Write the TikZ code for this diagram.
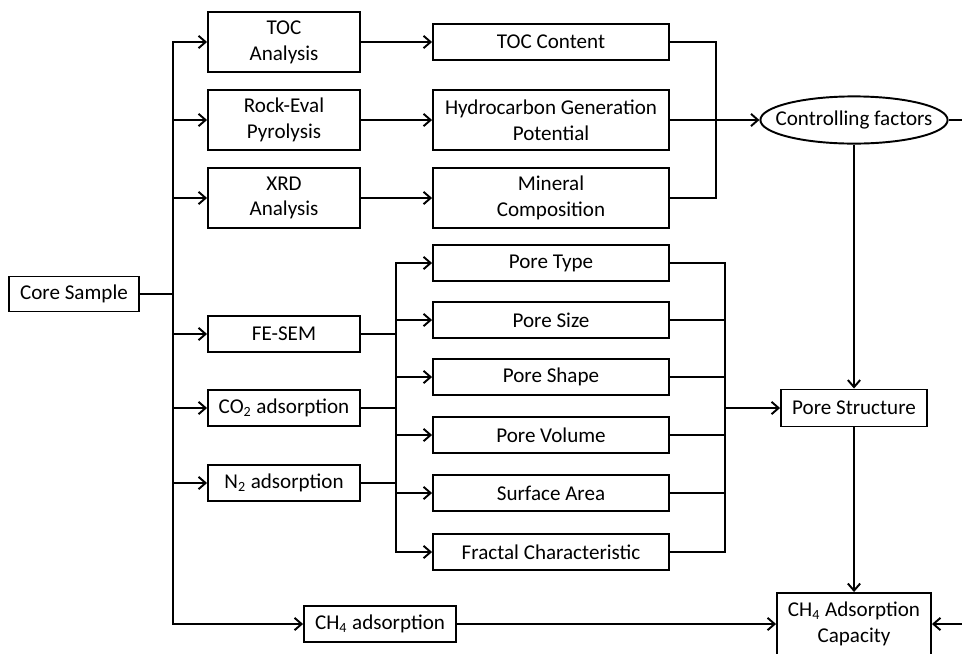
\documentclass[tikz,border=0pt]{standalone}
\usepackage{fontspec}
\setmainfont{Carlito}
\usepackage{tikz}
\usetikzlibrary{arrows, arrows.meta, shapes.geometric}

\begin{document}
\begin{tikzpicture}[x=0.02cm, y=-0.02cm, line width=1.1pt, >={Straight Barb[length=4pt,width=7pt]}]
\tikzstyle{box}=[draw, rectangle, inner sep=0pt, align=center, font=\fontsize{12}{14.7}\selectfont]
\tikzstyle{test}=[box, minimum width=3.04cm]
\tikzstyle{result}=[box, minimum width=4.72cm]
\useasboundingbox (0,0) rectangle (962,653);
\clip (0,0) rectangle (962,653);

\node[box, minimum width=2.6cm, minimum height=0.7cm] (core) at (74,294) {Core Sample};

\node[test, minimum height=1.2cm] (toca) at (284,42) {TOC\\Analysis};
\node[test, minimum height=1.2cm] (rock) at (284,120) {Rock-Eval\\Pyrolysis};
\node[test, minimum height=1.2cm] (xrd) at (284,198) {XRD\\Analysis};
\node[test, minimum height=0.72cm] (fesem) at (284,334) {FE-SEM};
\node[test, minimum height=0.72cm] (co2) at (284,408) {CO\textsubscript{2} adsorption};
\node[test, minimum height=0.72cm] (n2) at (284,483) {N\textsubscript{2} adsorption};
\node[test, minimum height=0.72cm] (ch4ads) at (380,624) {CH\textsubscript{4} adsorption};

\node[result, minimum height=0.72cm] (tocc) at (551,42) {TOC Content};
\node[result, minimum height=1.2cm] (hgp) at (551,120) {Hydrocarbon Generation\\Potential};
\node[result, minimum height=1.2cm] (mineral) at (551,198) {Mineral\\Composition};
\node[result, minimum height=0.72cm] (ptype) at (551,263) {Pore Type};
\node[result, minimum height=0.72cm] (psize) at (551,320) {Pore Size};
\node[result, minimum height=0.72cm] (pshape) at (551,377) {Pore Shape};
\node[result, minimum height=0.72cm] (pvol) at (551,435) {Pore Volume};
\node[result, minimum height=0.72cm] (sarea) at (551,493) {Surface Area};
\node[result, minimum height=0.72cm] (fractal) at (551,552) {Fractal Characteristic};

\node[box, ellipse, inner xsep=-7pt, inner ysep=4.3pt] (ctrl) at (854,120) {Controlling factors};
\node[box, minimum width=2.92cm, minimum height=0.74cm] (pstruct) at (854,408) {Pore Structure};
\node[box, minimum width=3.08cm, minimum height=1.24cm] (cap) at (854,624) {CH\textsubscript{4} Adsorption\\Capacity};

\coordinate (j0) at (173,294);
\coordinate (j1) at (716,120);
\coordinate (j2) at (396,408);
\coordinate (j3) at (725,408);
\coordinate (back) at (995,372);

% core sample to the tests
\draw (core) -- (j0);
\foreach \t in {toca, rock, xrd, fesem, co2, n2, ch4ads}
  \draw[->] (j0) |- (\t);

% geochemistry
\draw[->] (toca) -- (tocc);
\draw[->] (rock) -- (hgp);
\draw[->] (xrd) -- (mineral);
\draw (tocc) -| (j1);
\draw (mineral) -| (j1);
\draw[->] (hgp) -- (ctrl);

% pore measurements
\draw (fesem) -| (j2);
\draw (n2) -| (j2);
\draw (co2) -- (j2);
\foreach \p in {ptype, psize, pshape, pvol, sarea, fractal} {
  \draw[->] (j2) |- (\p);
  \draw (\p) -| (j3);
}
\draw[->] (j3) -- (pstruct);

% towards adsorption capacity
\draw[->] (ctrl) -- (pstruct);
\draw[->] (pstruct) -- (cap);
\draw[->] (ch4ads) -- (cap);
\draw[->] (ctrl) -| (back) |- (cap);

\end{tikzpicture}
\end{document}
